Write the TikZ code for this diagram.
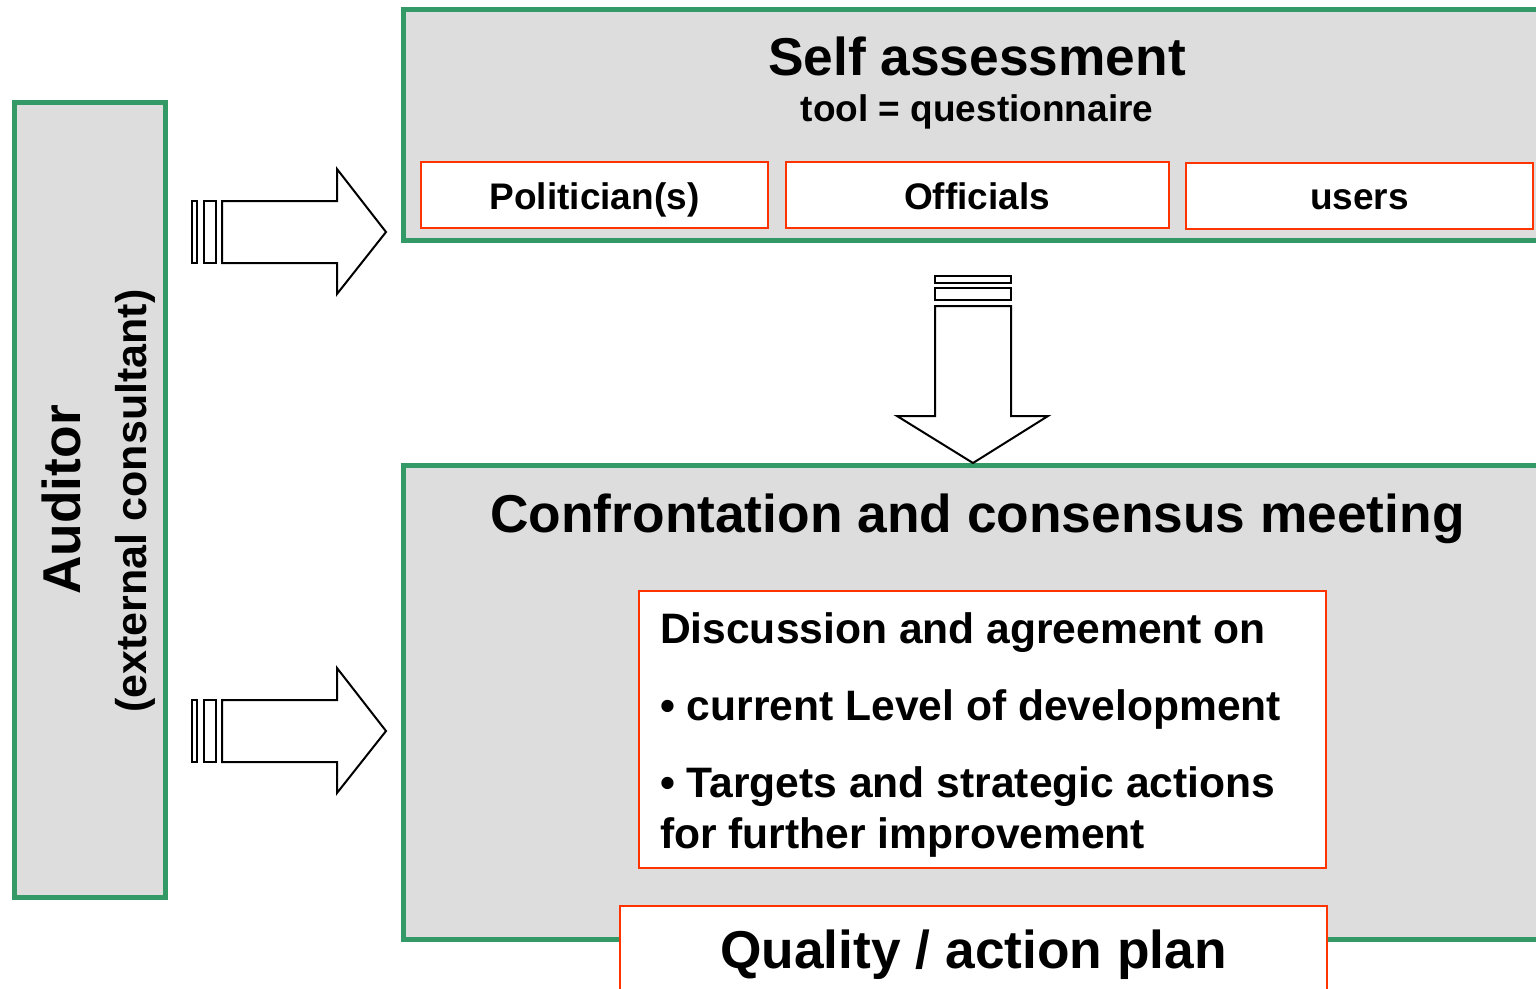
\documentclass[tikz,border=0pt]{standalone}
\usepackage{fontspec}
\setmainfont{Liberation Sans}
\definecolor{grn}{RGB}{51,153,102}
\definecolor{rd}{RGB}{255,51,0}
\definecolor{gry}{RGB}{221,221,221}
\newcommand\szA{\fontsize{53.3}{60}\selectfont\bfseries}
\newcommand\szB{\fontsize{42.6}{48}\selectfont\bfseries}
\newcommand\szD{\fontsize{43}{48}\selectfont\bfseries}
\newcommand\szC{\fontsize{37}{42}\selectfont\bfseries}
\begin{document}
\begin{tikzpicture}[x=1pt,y=-1pt,
  greenbox/.style={draw=grn, line width=5pt, fill=gry, rectangle, inner sep=0pt, outer sep=0pt, anchor=north west},
  redbox/.style={draw=rd, line width=2pt, fill=white, rectangle, inner sep=0pt, outer sep=0pt, anchor=north west},
  blockarrow/.style={draw=black, line width=2pt, fill=white, line join=miter},
  txt/.style={inner sep=0pt, outer sep=0pt, anchor=base}]
\useasboundingbox (0,0) rectangle (1536,988);
\clip (0,0) rectangle (1536,988);
\fill[white] (0,0) rectangle (1536,988);

% boxes
\node[greenbox, minimum width=151pt, minimum height=795pt] (auditor) at (14.5,102) {};
\node[greenbox, minimum width=1142pt, minimum height=230.5pt] (self) at (403,9.5) {};
\node[greenbox, minimum width=1142pt, minimum height=474pt] (meet) at (403,465.5) {};

\node[redbox, minimum width=347pt, minimum height=66pt] (pol) at (421,162) {};
\node[redbox, minimum width=383pt, minimum height=66pt] (off) at (786,162) {};
\node[redbox, minimum width=347pt, minimum height=66pt] (usr) at (1186,163) {};
\node[redbox, minimum width=687pt, minimum height=277pt] (disc) at (639,591) {};
\node[redbox, minimum width=707pt, minimum height=120pt] (qual) at (620,906) {};

% texts
\node[txt] (t1) at (977,75) {\szA Self assessment};
\node[txt] (t2) at (977,121) {\szC tool = questionnaire};
\node[txt] (t3) at (594.5,209) {\szC Politician(s)};
\node[txt] (t4) at (977,209) {\szC Officials};
\node[txt] (t5) at (1359.5,209) {\szC users};
\node[txt] (t6) at (977.5,532) {\szA Confrontation and consensus meeting};
\node[txt, anchor=base west] (d1) at (660,643) {\szB Discussion and agreement on};
\node[txt, anchor=base west] (d2) at (660,720) {\szB • current Level of development};
\node[txt, anchor=base west] (d3) at (660,797) {\szB • Targets and strategic actions};
\node[txt, anchor=base west] (d4) at (660,848) {\szB for further improvement};
\node[txt] (q) at (973.5,968) {\szA Quality / action plan};
\node[txt, rotate=90] (a1) at (80,500) {\szA Auditor};
\node[txt, rotate=90] (a2) at (146,501) {\szD (external consultant)};

% right arrows
\foreach \dy/\nm in {0/ra, 499/rb}{
  \begin{scope}[yshift=-\dy pt]
    \draw[blockarrow] (192,201) rectangle (197,263);
    \draw[blockarrow] (204,201) rectangle (216,263);
    \draw[blockarrow] (222,201) -- (337,201) -- (337,169) -- (386,232) -- (337,294) -- (337,263) -- (222,263) -- cycle;
  \end{scope}
}

% down arrow
\draw[blockarrow] (935,276) rectangle (1011,283);
\draw[blockarrow] (935,288) rectangle (1011,300);
\draw[blockarrow] (935,306) -- (935,416) -- (897,416) -- (973,463) -- (1048,416) -- (1011,416) -- (1011,306) -- cycle;
\end{tikzpicture}
\end{document}
